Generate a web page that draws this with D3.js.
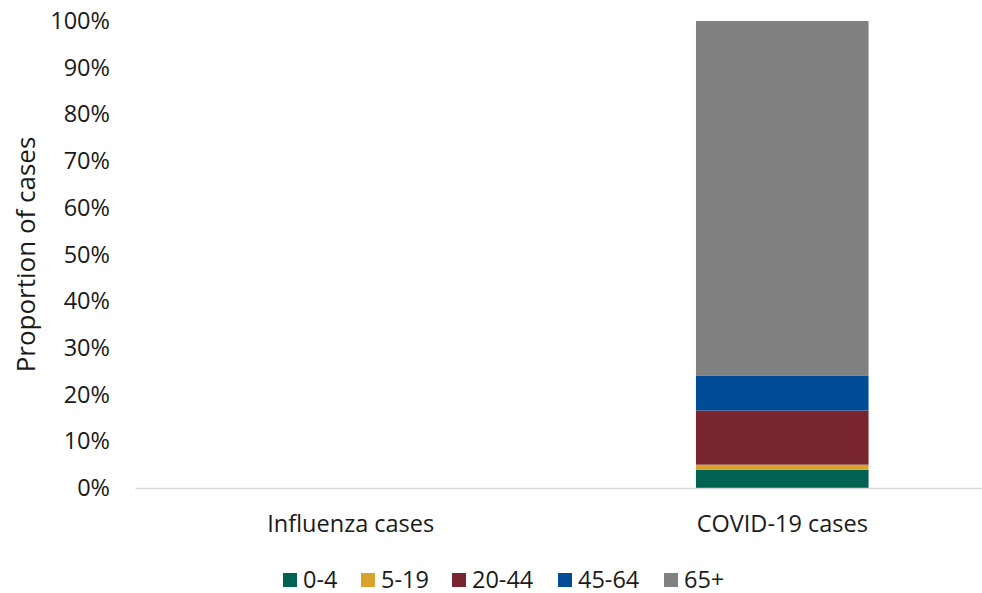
<!DOCTYPE html>
<html>
<head>
<meta charset="utf-8">
<script src="https://cdnjs.cloudflare.com/ajax/libs/d3/7.8.5/d3.min.js"></script>
<style>
	body { margin: 0; background: #fff; }
	svg text { font-family: "Open Sans", "Noto Sans", sans-serif; fill: #1a1a1a; }
</style>
</head>
<body>
<div id="chartDiv"></div>
<script>
;(function() {

	var width = 982;
	var height = 593;
	// the plot area runs a little past the right edge, as in the source
	var margin = { top: 21, right: -16, bottom: 105, left: 135 };
	var fontSize = "23.5px";

	// data (proportions in %)
	var categories = ["Influenza cases", "COVID-19 cases"];
	var ageGroups = ["0-4", "5-19", "20-44", "45-64", "65+"];
	var influenza = [0, 0, 0, 0, 0];
	var covid = [3.9, 1.1, 11.6, 7.5, 75.9];
	var yTicks = [0, 10, 20, 30, 40, 50, 60, 70, 80, 90, 100];
	var colors = ["#006352", "#d9a22a", "#782530", "#004c97", "#808080"];

	var chartWidth = width - margin.left - margin.right;
	var chartHeight = height - margin.top - margin.bottom;

	var rows = categories.map(function(c, i) {
		var vals = i === 0 ? influenza : covid;
		var row = { category: c };
		ageGroups.forEach(function(g, j) { row[g] = vals[j]; });
		return row;
	});

	var svg = d3.select("#chartDiv").append("svg")
		.attr("width", width)
		.attr("height", height);

	var plot = svg.append("g")
		.attr("transform", "translate(" + margin.left + "," + margin.top + ")");

	var xScale = d3.scaleBand()
		.domain(categories)
		.range([0, chartWidth])
		.paddingInner(0.6)
		.paddingOuter(0.3);

	var yScale = d3.scaleLinear()
		.domain([0, 100])
		.range([chartHeight, 0]);

	var stack = d3.stack().keys(ageGroups);
	var series = stack(rows);

	// bars
	plot.selectAll(".layer")
		.data(series)
		.enter().append("g")
		.attr("class", "layer")
		.attr("fill", function(d, i) { return colors[i]; })
		.selectAll("rect")
		.data(function(d) { return d; })
		.enter().append("rect")
		.attr("x", function(d) { return xScale(d.data.category); })
		.attr("width", xScale.bandwidth())
		.attr("y", function(d) { return yScale(d[1]); })
		.attr("height", function(d) { return yScale(d[0]) - yScale(d[1]); });

	// x axis
	var xAxis = d3.axisBottom(xScale).tickSize(0).tickPadding(27);
	var xg = plot.append("g")
		.attr("transform", "translate(0," + chartHeight + ")")
		.call(xAxis);
	xg.select(".domain").attr("stroke", "#d9d9d9").attr("stroke-width", 1.5);
	xg.selectAll("text").style("font-size", fontSize).attr("fill", "#1a1a1a");

	// y axis
	var yAxis = d3.axisLeft(yScale)
		.tickValues(yTicks)
		.tickSize(0)
		.tickPadding(25)
		.tickFormat(function(d) { return d + "%"; });
	var yg = plot.append("g").call(yAxis);
	yg.select(".domain").remove();
	yg.selectAll("text").style("font-size", fontSize).attr("fill", "#1a1a1a");

	// y axis title
	svg.append("text")
		.attr("text-anchor", "middle")
		.attr("transform", "translate(35," + (margin.top + chartHeight / 2) + ") rotate(-90)")
		.style("font-size", "26px")
		.text("Proportion of cases");

	// legend
	var legendX = [283, 361, 452, 558, 664];
	var legend = svg.append("g").attr("transform", "translate(0,580)");
	var items = legend.selectAll(".item")
		.data(ageGroups)
		.enter().append("g")
		.attr("class", "item")
		.attr("transform", function(d, i) { return "translate(" + legendX[i] + ",0)"; });
	items.append("rect")
		.attr("x", 0).attr("y", -7)
		.attr("width", 14).attr("height", 14)
		.attr("fill", function(d, i) { return colors[i]; });
	items.append("text")
		.attr("x", 20)
		.attr("dy", "0.35em")
		.style("font-size", fontSize)
		.text(function(d) { return d; });

})();
</script>
</body>
</html>
